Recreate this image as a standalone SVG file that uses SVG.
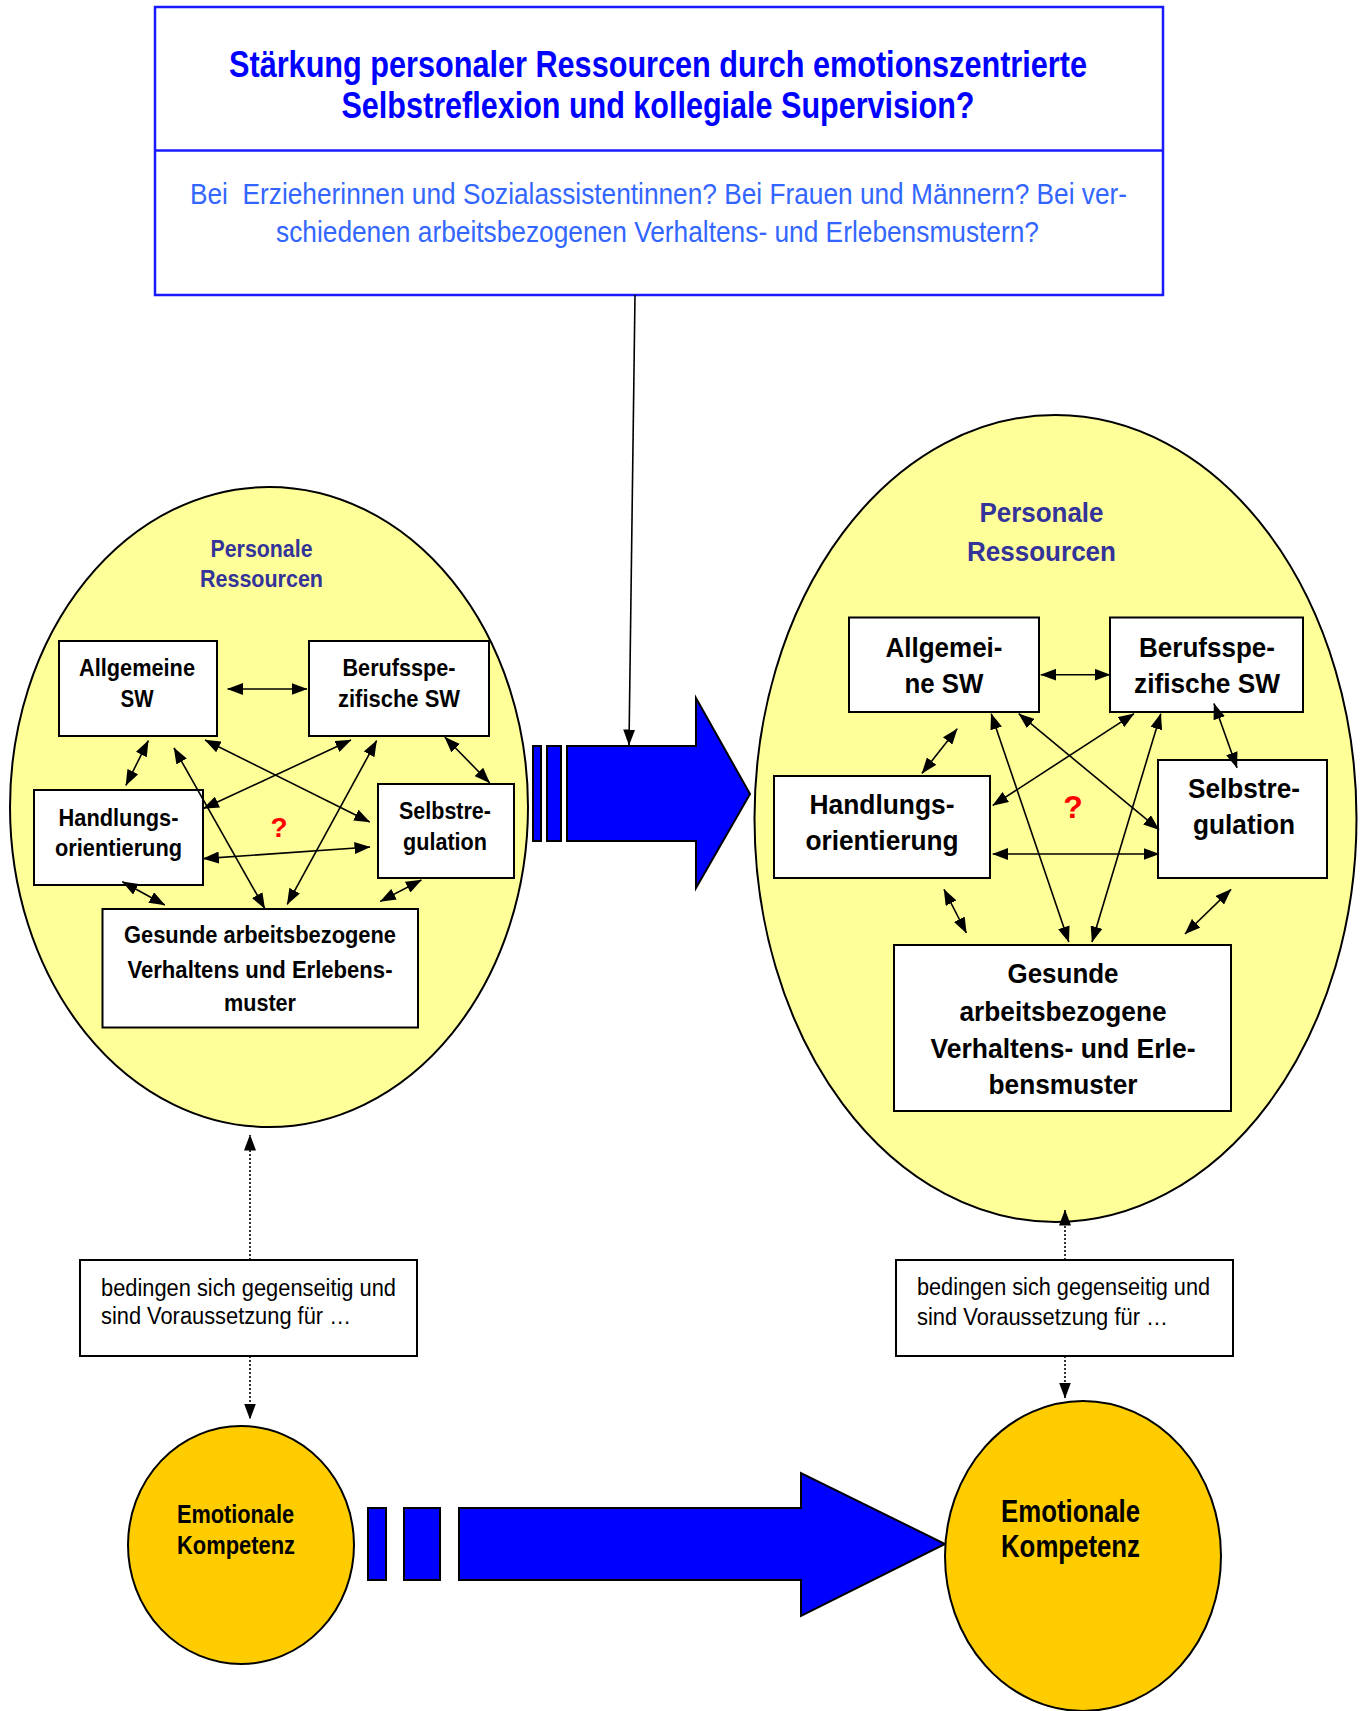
<svg xmlns="http://www.w3.org/2000/svg" width="1364" height="1711" viewBox="0 0 1364 1711">
<style>
text{font-family:"Liberation Sans",Arial,sans-serif;}
.narrow{font-family:"Liberation Sans Narrow","Liberation Sans",Arial,sans-serif;}
.title{font-size:37px;font-weight:bold;fill:#0000FF;text-anchor:middle;}
.sub{font-size:29px;fill:#3366FF;text-anchor:middle;white-space:pre;}
.box{fill:#FFFFFF;stroke:#000;stroke-width:2;}
.res{fill:#FFFF99;stroke:#000;stroke-width:2;}
.emo{fill:#FFCC00;stroke:#000;stroke-width:2;}
.blue{fill:#0000FF;stroke:#000;stroke-width:2;}
.bl{font-weight:bold;fill:#000;text-anchor:middle;}
.s{font-size:23px;}
.m{font-size:28px;}
.pr{font-weight:bold;fill:#333399;text-anchor:middle;}
.q{font-weight:bold;fill:#FF0000;text-anchor:middle;}
.note{font-size:23px;fill:#000;}
.emot{font-weight:bold;fill:#000;}
.c{stroke:#000;stroke-width:1.6;fill:none;marker-start:url(#ah);marker-end:url(#ah);}
.one{stroke:#000;stroke-width:1.6;fill:none;marker-end:url(#ah);}
.dot{stroke:#000;stroke-width:1.6;fill:none;stroke-dasharray:2,2;marker-end:url(#ah);}
</style>
<defs>
<marker id="ah" viewBox="0 0 16 12" refX="15.5" refY="6" markerWidth="16" markerHeight="12" markerUnits="userSpaceOnUse" orient="auto-start-reverse">
<path d="M0,0 L16,6 L0,12 z" fill="#000"/>
</marker>
</defs>
<rect width="1364" height="1711" fill="#FFFFFF"/>

<g id="topbox">
<rect x="155" y="7" width="1008" height="288" fill="#FFFFFF" stroke="#1A1AFF" stroke-width="2.5"/>
<line x1="155" y1="150.5" x2="1163" y2="150.5" stroke="#1A1AFF" stroke-width="2.5"/>
<text class="title narrow" x="658" y="77" textLength="858" lengthAdjust="spacingAndGlyphs">Stärkung personaler Ressourcen durch emotionszentrierte</text>
<text class="title narrow" x="658" y="118" textLength="633" lengthAdjust="spacingAndGlyphs">Selbstreflexion und kollegiale Supervision?</text>
<text class="sub narrow" x="658.5" y="204" textLength="937" lengthAdjust="spacingAndGlyphs">Bei  Erzieherinnen und Sozialassistentinnen? Bei Frauen und Männern? Bei ver-</text>
<text class="sub narrow" x="657.5" y="242" textLength="763" lengthAdjust="spacingAndGlyphs">schiedenen arbeitsbezogenen Verhaltens- und Erlebensmustern?</text>
</g>

<g id="arrow-middle">
<rect class="blue" x="533" y="746" width="8" height="95"/>
<rect class="blue" x="547" y="746" width="14" height="95"/>
<path class="blue" d="M567,746 L696,746 L696,698 L750,794 L696,888 L696,841 L567,841 Z"/>
</g>

<g id="arrow-bottom">
<rect class="blue" x="368" y="1508" width="18" height="72"/>
<rect class="blue" x="404" y="1508" width="36" height="72"/>
<path class="blue" d="M459,1508 L801,1508 L801,1473 L945,1544 L801,1616 L801,1580 L459,1580 Z"/>
</g>

<g id="res-left">
<ellipse class="res" cx="269" cy="807" rx="259" ry="320"/>
<text class="pr" x="261.5" y="557" font-size="23" textLength="102" lengthAdjust="spacingAndGlyphs">Personale</text>
<text class="pr" x="261.5" y="587" font-size="23" textLength="123" lengthAdjust="spacingAndGlyphs">Ressourcen</text>
</g>
<g id="l-allg">
<rect class="box" x="59" y="641" width="158" height="95"/>
<text class="bl s" x="137" y="676" textLength="116" lengthAdjust="spacingAndGlyphs">Allgemeine</text>
<text class="bl s" x="137" y="707" textLength="33" lengthAdjust="spacingAndGlyphs">SW</text>
</g>
<g id="l-beruf">
<rect class="box" x="309" y="641" width="180" height="95"/>
<text class="bl s" x="399" y="676" textLength="113" lengthAdjust="spacingAndGlyphs">Berufsspe-</text>
<text class="bl s" x="399" y="707" textLength="122" lengthAdjust="spacingAndGlyphs">zifische SW</text>
</g>
<g id="l-hand">
<rect class="box" x="34" y="790" width="169" height="95"/>
<text class="bl s" x="118.5" y="826" textLength="120" lengthAdjust="spacingAndGlyphs">Handlungs-</text>
<text class="bl s" x="118.5" y="856" textLength="127" lengthAdjust="spacingAndGlyphs">orientierung</text>
</g>
<g id="l-selbst">
<rect class="box" x="378" y="784" width="136" height="94"/>
<text class="bl s" x="445" y="819" textLength="92" lengthAdjust="spacingAndGlyphs">Selbstre-</text>
<text class="bl s" x="445" y="850" textLength="84" lengthAdjust="spacingAndGlyphs">gulation</text>
</g>
<g id="l-ges">
<rect class="box" x="102.5" y="909" width="315.5" height="118.5"/>
<text class="bl s" x="260" y="943" textLength="272" lengthAdjust="spacingAndGlyphs">Gesunde arbeitsbezogene</text>
<text class="bl s" x="260" y="978" textLength="265" lengthAdjust="spacingAndGlyphs">Verhaltens und Erlebens-</text>
<text class="bl s" x="260" y="1011" textLength="72" lengthAdjust="spacingAndGlyphs">muster</text>
</g>
<text class="q" x="279" y="837" font-size="28">?</text>

<g id="res-right">
<ellipse class="res" cx="1055.5" cy="818.5" rx="301" ry="403.5"/>
<text class="pr" x="1041.5" y="522" font-size="27" textLength="124" lengthAdjust="spacingAndGlyphs">Personale</text>
<text class="pr" x="1041.5" y="561" font-size="27" textLength="149" lengthAdjust="spacingAndGlyphs">Ressourcen</text>
</g>
<g id="r-allg">
<rect class="box" x="849" y="617.5" width="190" height="94.5"/>
<text class="bl m" x="944" y="657" textLength="117" lengthAdjust="spacingAndGlyphs">Allgemei-</text>
<text class="bl m" x="944" y="693" textLength="79" lengthAdjust="spacingAndGlyphs">ne SW</text>
</g>
<g id="r-beruf">
<rect class="box" x="1110" y="617.5" width="193" height="94.5"/>
<text class="bl m" x="1207" y="657" textLength="136" lengthAdjust="spacingAndGlyphs">Berufsspe-</text>
<text class="bl m" x="1207" y="693" textLength="146" lengthAdjust="spacingAndGlyphs">zifische SW</text>
</g>
<g id="r-hand">
<rect class="box" x="774" y="776" width="216" height="102"/>
<text class="bl m" x="882" y="814" textLength="145" lengthAdjust="spacingAndGlyphs">Handlungs-</text>
<text class="bl m" x="882" y="850" textLength="153" lengthAdjust="spacingAndGlyphs">orientierung</text>
</g>
<g id="r-selbst">
<rect class="box" x="1158" y="760" width="169" height="118"/>
<text class="bl m" x="1244" y="798" textLength="112" lengthAdjust="spacingAndGlyphs">Selbstre-</text>
<text class="bl m" x="1244" y="834" textLength="102" lengthAdjust="spacingAndGlyphs">gulation</text>
</g>
<g id="r-ges">
<rect class="box" x="894" y="945" width="337" height="166"/>
<text class="bl m" x="1063" y="983" textLength="111" lengthAdjust="spacingAndGlyphs">Gesunde</text>
<text class="bl m" x="1063" y="1021" textLength="207" lengthAdjust="spacingAndGlyphs">arbeitsbezogene</text>
<text class="bl m" x="1063" y="1058" textLength="265" lengthAdjust="spacingAndGlyphs">Verhaltens- und Erle-</text>
<text class="bl m" x="1063" y="1094" textLength="149" lengthAdjust="spacingAndGlyphs">bensmuster</text>
</g>
<text class="q" x="1073" y="818" font-size="32">?</text>

<g id="note-left">
<rect class="box" x="80" y="1260" width="337" height="96"/>
<text class="note" x="101" y="1296" textLength="295" lengthAdjust="spacingAndGlyphs">bedingen sich gegenseitig und</text>
<text class="note" x="101" y="1324" textLength="250" lengthAdjust="spacingAndGlyphs">sind Voraussetzung für &#8230;</text>
</g>
<g id="note-right">
<rect class="box" x="896" y="1260" width="337" height="96"/>
<text class="note" x="917" y="1295" textLength="293" lengthAdjust="spacingAndGlyphs">bedingen sich gegenseitig und</text>
<text class="note" x="917" y="1325" textLength="251" lengthAdjust="spacingAndGlyphs">sind Voraussetzung für &#8230;</text>
</g>

<g id="emo-left">
<ellipse class="emo" cx="241" cy="1545" rx="113" ry="119"/>
<text class="emot narrow" x="177" y="1523" font-size="25" textLength="117" lengthAdjust="spacingAndGlyphs">Emotionale</text>
<text class="emot narrow" x="177" y="1554" font-size="25" textLength="118" lengthAdjust="spacingAndGlyphs">Kompetenz</text>
</g>
<g id="emo-right">
<ellipse class="emo" cx="1083" cy="1556" rx="138" ry="155"/>
<text class="emot narrow" x="1001" y="1522" font-size="31" textLength="139" lengthAdjust="spacingAndGlyphs">Emotionale</text>
<text class="emot narrow" x="1001" y="1557" font-size="31" textLength="139" lengthAdjust="spacingAndGlyphs">Kompetenz</text>
</g>

<g id="connectors">
<line class="one" x1="635" y1="295" x2="629" y2="745"/>
<line class="c" x1="227.6" y1="689" x2="307" y2="689"/>
<line class="c" x1="148.3" y1="740.7" x2="125.9" y2="785.4"/>
<line class="c" x1="174" y1="748" x2="264.8" y2="908.6"/>
<line class="c" x1="205" y1="740" x2="369.7" y2="822"/>
<line class="c" x1="351" y1="740" x2="203.4" y2="808.6"/>
<line class="c" x1="376.6" y1="740.7" x2="287.2" y2="904.3"/>
<line class="c" x1="444.8" y1="737" x2="489.7" y2="783"/>
<line class="c" x1="203.4" y1="858.6" x2="370" y2="847"/>
<line class="c" x1="122.4" y1="881.8" x2="164.8" y2="905"/>
<line class="c" x1="421.4" y1="880" x2="380.3" y2="901.4"/>
<line class="c" x1="1040.8" y1="674.7" x2="1110" y2="674.7"/>
<line class="c" x1="957.2" y1="728.8" x2="922" y2="773.3"/>
<line class="c" x1="991.2" y1="713.7" x2="1068.8" y2="942"/>
<line class="c" x1="1018.8" y1="713.7" x2="1159" y2="829.7"/>
<line class="c" x1="1134" y1="713.7" x2="992.8" y2="805.4"/>
<line class="c" x1="1160.8" y1="713.7" x2="1092" y2="942"/>
<line class="c" x1="1214" y1="703.6" x2="1237" y2="767.8"/>
<line class="c" x1="992.8" y1="854" x2="1159" y2="854"/>
<line class="c" x1="944" y1="889.4" x2="966.4" y2="933"/>
<line class="c" x1="1231" y1="889.4" x2="1185" y2="934"/>
<line class="dot" x1="250" y1="1260" x2="250" y2="1135"/>
<line class="dot" x1="250" y1="1356" x2="250" y2="1419"/>
<line class="dot" x1="1065" y1="1260" x2="1065" y2="1210"/>
<line class="dot" x1="1065" y1="1356" x2="1065" y2="1398"/>
</g>
</svg>
